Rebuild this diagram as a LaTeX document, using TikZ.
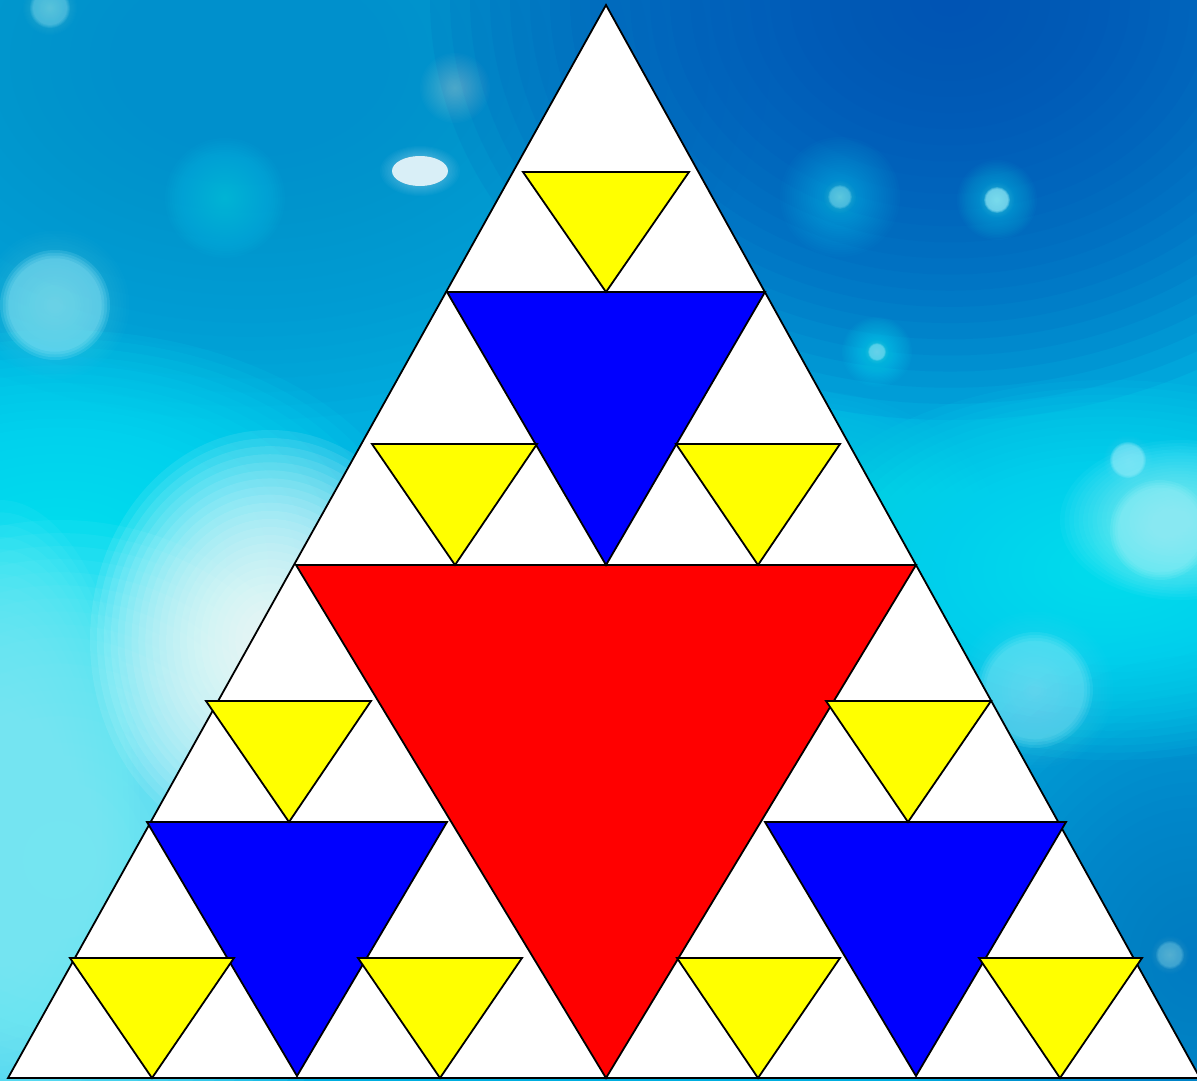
\documentclass[tikz,border=0pt]{standalone}
\definecolor{bgbase}{HTML}{00AEDF}
\definecolor{bgdark}{HTML}{0050B4}
\definecolor{bgmid}{HTML}{0090CC}
\definecolor{bgblue}{HTML}{0078C2}
\definecolor{bgcyan}{HTML}{00E6F8}
\definecolor{bglight}{HTML}{80F0FC}
\definecolor{spotc}{HTML}{B0F6FF}
\definecolor{ylw}{HTML}{FFFF00}
\definecolor{blu}{HTML}{0000FF}
\definecolor{rd}{HTML}{FF0000}
\tikzset{
  tri/.style={draw=black, line width=1.8pt, line join=miter},
}
% soft blob: colour, x, y, rx, ry, opacity (per 14 layers)
\newcommand\softblob[6]{%
  \pgfmathsetmacro\blobop{#6*0.56}%
  \foreach \k in {1,...,26}{\fill[#1, fill opacity=\blobop] (#2,#3) ellipse ({#4*\k/26} and {#5*\k/26});}}
% bokeh spot: x, y, r, opacity
\newcommand\bokeh[4]{%
  \softblob{spotc}{#1}{#2}{#3*1.35}{#3*1.35}{0.03}%
  \pgfmathsetmacro\spotop{#4/4}%
  \foreach \k in {1,...,4}{\fill[spotc, fill opacity=\spotop] (#1,#2) circle ({#3*(0.8+0.05*\k)});}}
\begin{document}
\begin{tikzpicture}[x=1pt,y=-1pt]
\useasboundingbox (0,0) rectangle (1197,1081);
\begin{scope}
\clip (0,0) rectangle (1197,1081);
\fill[bgbase] (0,0) rectangle (1197,1081);
% large colour areas
\softblob{bgmid}{250}{60}{520}{360}{0.14}
\softblob{bgdark}{950}{0}{520}{420}{0.16}
\softblob{bgblue}{1197}{960}{300}{330}{0.12}
\softblob{bgcyan}{60}{560}{360}{230}{0.16}
\softblob{bgcyan}{1110}{570}{330}{190}{0.14}
\softblob{bgcyan}{800}{540}{200}{150}{0.08}
\softblob{bglight}{60}{860}{320}{340}{0.16}
\softblob{bglight}{0}{820}{140}{320}{0.14}
\softblob{white}{270}{640}{180}{210}{0.16}
\softblob{bglight}{1180}{520}{120}{80}{0.12}
% bokeh spots
\bokeh{55}{305}{55}{0.55}
\bokeh{50}{8}{20}{0.35}
\softblob{bgcyan}{225}{198}{60}{60}{0.05}
\fill[white, fill opacity=0.85] (420,171) ellipse (28 and 15);
\softblob{white}{420}{171}{40}{25}{0.04}
\softblob{white}{455}{88}{35}{35}{0.03}
\softblob{bgcyan}{840}{197}{60}{60}{0.04}
\bokeh{840}{197}{12}{0.4}
\softblob{bgcyan}{997}{200}{40}{40}{0.05}
\bokeh{997}{200}{13}{0.75}
\softblob{bgcyan}{877}{352}{35}{35}{0.06}
\bokeh{877}{352}{9}{0.5}
\bokeh{1128}{460}{18}{0.6}
\bokeh{1160}{530}{50}{0.45}
\bokeh{1035}{690}{58}{0.4}
\bokeh{1170}{955}{14}{0.3}
\end{scope}
% outer triangle
\draw[tri, fill=white] (606,5) -- (8,1078) -- (1200,1078) -- cycle;
% red
\draw[tri, fill=rd] (296,565) -- (916,565) -- (606,1078) -- cycle;
% blues
\draw[tri, fill=blu] (447,292) -- (765,292) -- (606,565) -- cycle;
\draw[tri, fill=blu] (147,822) -- (447,822) -- (297,1076) -- cycle;
\draw[tri, fill=blu] (765,822) -- (1066,822) -- (916,1076) -- cycle;
% yellows
\foreach \a/\b/\c/\y/\yb in {523/689/606/172/292, 372/537/455/444/565, 676/840/758/444/565,
  206/371/289/701/822, 826/991/908/701/822,
  70/234/152/958/1078, 358/522/440/958/1078, 677/840/758/958/1078, 979/1142/1060/958/1078}{
  \draw[tri, fill=ylw] (\a,\y) -- (\b,\y) -- (\c,\yb) -- cycle;
}
\end{tikzpicture}
\end{document}
